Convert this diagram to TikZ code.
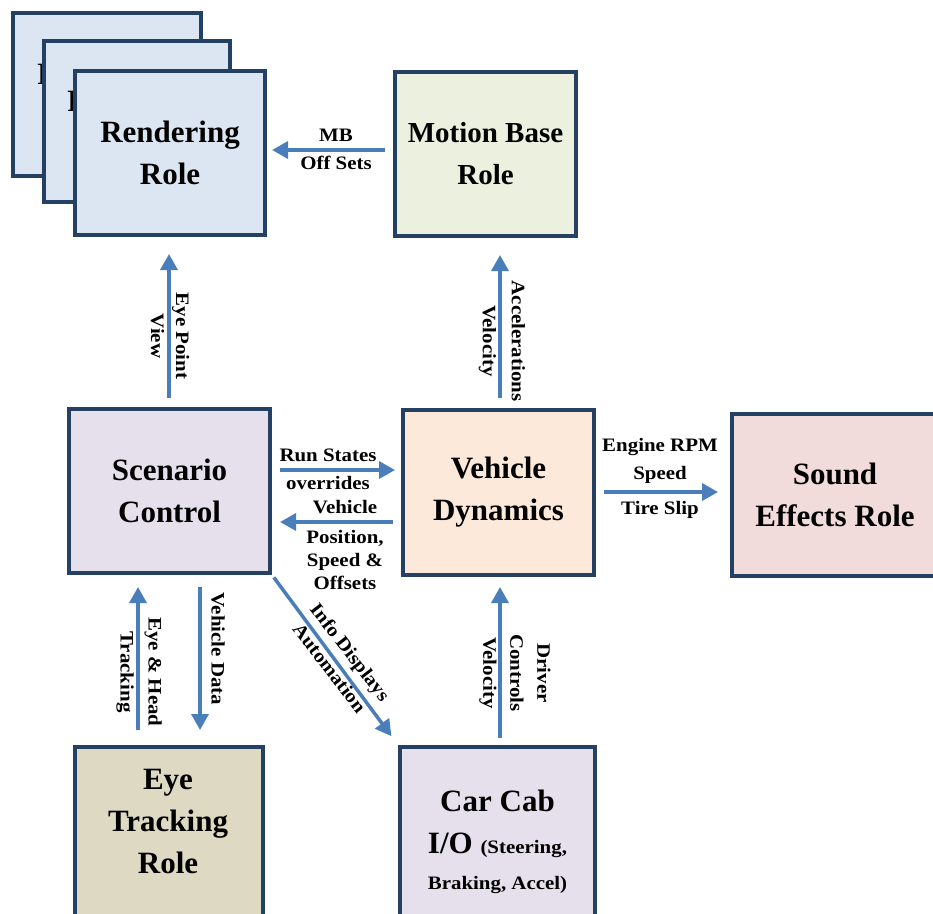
\documentclass[tikz,border=0pt]{standalone}
\usepackage{fontspec}
\setmainfont{Liberation Serif}
\newfontfamily\lblfont[FakeStretch=1.1]{Liberation Serif}
\usetikzlibrary{arrows.meta,calc}

\definecolor{boxline}{RGB}{36,64,98}
\definecolor{flowblue}{RGB}{74,126,187}
\definecolor{rendfill}{RGB}{220,230,242}
\definecolor{mbfill}{RGB}{235,241,222}
\definecolor{scenfill}{RGB}{229,224,236}
\definecolor{vdfill}{RGB}{253,233,217}
\definecolor{sndfill}{RGB}{242,220,219}
\definecolor{eyefill}{RGB}{221,217,195}
\definecolor{cabfill}{RGB}{229,224,236}

\begin{document}
\begin{tikzpicture}[x=1pt,y=-1pt,
  box/.style={draw=boxline, line width=4pt, rectangle, inner sep=0pt,
    align=center, font=\fontsize{31}{42}\selectfont\bfseries},
  boxtext/.style={inner sep=0pt, align=center,
    font=\fontsize{31}{42}\selectfont\bfseries},
  flow/.style={draw=flowblue, line width=3.5pt,
    -{Triangle[length=16pt,width=17pt]}},
  lbl/.style={inner sep=0pt, align=center,
    font=\lblfont\fontsize{19}{25}\selectfont\bfseries}
]
\useasboundingbox (0,0) rectangle (933,913);
\clip (0,0) rectangle (933,913);

% stacked rendering roles
\node[box, fill=rendfill, minimum width=188pt, minimum height=163pt] (back1) at (107,94.5) {Rendering\\Role};
\node[box, fill=rendfill, minimum width=186pt, minimum height=161pt] (back2) at (137,121.5) {Rendering\\Role};
\node[box, fill=rendfill, minimum width=190pt, minimum height=164pt] (rend) at (170,153) {Rendering\\Role};

% other roles
\node[box, fill=mbfill, minimum width=181pt, minimum height=164pt,
  font=\fontsize{29}{42}\selectfont\bfseries] (mb) at (485.5,154) {Motion Base\\Role};
\node[box, fill=scenfill, minimum width=201pt, minimum height=164pt] (scen) at (169.5,491) {Scenario\\Control};
\node[box, fill=vdfill, minimum width=191pt, minimum height=165pt] (vd) at (498.5,492.5) {Vehicle\\Dynamics};
\node[box, fill=sndfill, minimum width=206pt, minimum height=162pt] (snd) at (835,495) {Sound\\Effects Role};
\node[box, fill=eyefill, minimum width=188pt, minimum height=172pt] (eye) at (169,833) {};
\node[boxtext] (eyet) at (168,821) {Eye\\Tracking\\Role};
\node[box, fill=cabfill, minimum width=195pt, minimum height=172pt] (cab) at (497.5,833) {};
\node[boxtext] (cabt) at (497.5,842) {Car Cab\\[0pt]I/O {\lblfont\fontsize{19}{25}\selectfont (Steering,}\\[-6pt]{\lblfont\fontsize{19}{25}\selectfont Braking, Accel)}};

% data flows
\draw[flow, shorten <=8pt, shorten >=5pt] (mb.west |- 0,150) -- (rend.east |- 0,150);
\node[lbl] (l-mb) at (336,135) {MB};
\node[lbl] (l-off) at (336,163) {Off Sets};

\draw[flow, shorten <=9pt, shorten >=17pt] (scen.north -| 169,0) -- (rend.south -| 169,0);
\node[lbl, rotate=-90] (l-eyept) at (170,336) {Eye Point\\View};

\draw[flow, shorten <=10pt, shorten >=17pt] (vd.north -| 500,0) -- (mb.south -| 500,0);
\node[lbl, rotate=-90, font=\lblfont\fontsize{19}{29}\selectfont\bfseries] (l-acc) at (502,341) {Accelerations\\Velocity};

\draw[flow, shorten <=8pt, shorten >=6pt] (scen.east |- 0,470) -- (vd.west |- 0,470);
\node[lbl] (l-run) at (328,455) {Run States};
\node[lbl] (l-ovr) at (328,483) {overrides};

\draw[flow, shorten <=8pt, shorten >=8pt] (vd.west |- 0,522) -- (scen.east |- 0,522);
\node[lbl] (l-veh) at (345,507) {Vehicle};
\node[lbl, font=\lblfont\fontsize{19}{23}\selectfont\bfseries] (l-pos) at (345,560) {Position,\\Speed \&\\Offsets};

\draw[flow, shorten <=8pt, shorten >=12pt] (vd.east |- 0,492) -- (snd.west |- 0,492);
\node[lbl, font=\lblfont\fontsize{19}{28}\selectfont\bfseries] (l-rpm) at (660,461) {Engine RPM\\Speed};
\node[lbl] (l-slip) at (660,510) {Tire Slip};

\draw[flow, shorten <=15pt, shorten >=12pt] (eye.north -| 138,0) -- (scen.south -| 138,0);
\node[lbl, rotate=-90, font=\lblfont\fontsize{19}{28}\selectfont\bfseries] (l-track) at (139,672) {Eye \& Head\\Tracking};

\draw[flow, shorten <=12pt, shorten >=15pt] (scen.south -| 200,0) -- (eye.north -| 200,0);
\node[lbl, rotate=-90] (l-vdata) at (218,649) {Vehicle Data};

\draw[flow, shorten <=3pt, shorten >=11pt] (scen.south east) -- (cab.north west);
\node[lbl, rotate=-52.3, font=\lblfont\fontsize{19}{26}\selectfont\bfseries] (l-info) at (340,660) {Info Displays\\Automation};

\draw[flow, shorten <=7pt, shorten >=10pt] (cab.north -| 500,0) -- (vd.south -| 500,0);
\node[lbl, rotate=-90, font=\lblfont\fontsize{19}{27}\selectfont\bfseries] (l-drv) at (515,673) {Driver\\Controls\\Velocity};
\end{tikzpicture}
\end{document}
